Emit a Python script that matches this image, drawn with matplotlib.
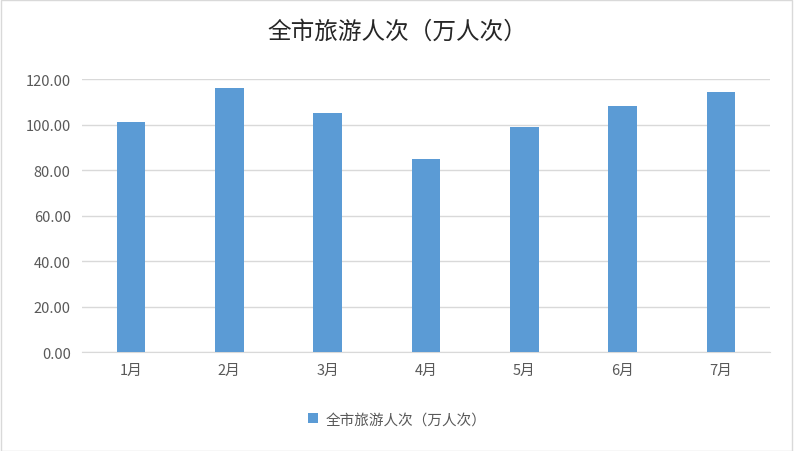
import matplotlib
matplotlib.use("Agg")
import matplotlib.pyplot as plt
from matplotlib.patches import Rectangle

plt.rcParams['font.family'] = ['Noto Sans CJK SC', 'DejaVu Sans']

categories = ['1月', '2月', '3月', '4月', '5月', '6月', '7月']
values = [101.1, 116.0, 105.1, 84.8, 98.9, 108.1, 114.3]
series_name = '全市旅游人次（万人次）'
yticks = [0, 20, 40, 60, 80, 100, 120]

fig = plt.figure(figsize=(7.94, 4.52), dpi=100)
ax = fig.add_axes([0.103, 0.219, 0.867, 0.604])
ax.bar(categories, values, width=0.29, color='#5b9bd5', label=series_name, zorder=3)
ax.set_ylim(0, 120)
ax.set_xlim(-0.5, len(categories) - 0.5)
ax.set_yticks(yticks)
ax.set_yticklabels([f'{v:.2f}' for v in yticks])
ax.grid(axis='y', color='#d9d9d9', linewidth=1, zorder=0)
for s in ['top', 'right', 'left']:
    ax.spines[s].set_visible(False)
ax.spines['bottom'].set_color('#d9d9d9')
ax.tick_params(axis='both', length=0, labelsize=10.5, colors='#595959', pad=8)
fig.suptitle(series_name, y=0.955, fontsize=17, color='#262626', fontweight='medium')
fig.legend(loc='center', bbox_to_anchor=(0.5, 0.07), frameon=False, fontsize=10.5,
           handlelength=0.7, handleheight=0.7, handletextpad=0.5, labelcolor='#595959')
fig.patches.append(Rectangle((0.001, 0.001), 0.997, 0.997, transform=fig.transFigure,
                             fill=False, edgecolor='#d9d9d9', linewidth=1))
fig.savefig('out.png', dpi=100)
